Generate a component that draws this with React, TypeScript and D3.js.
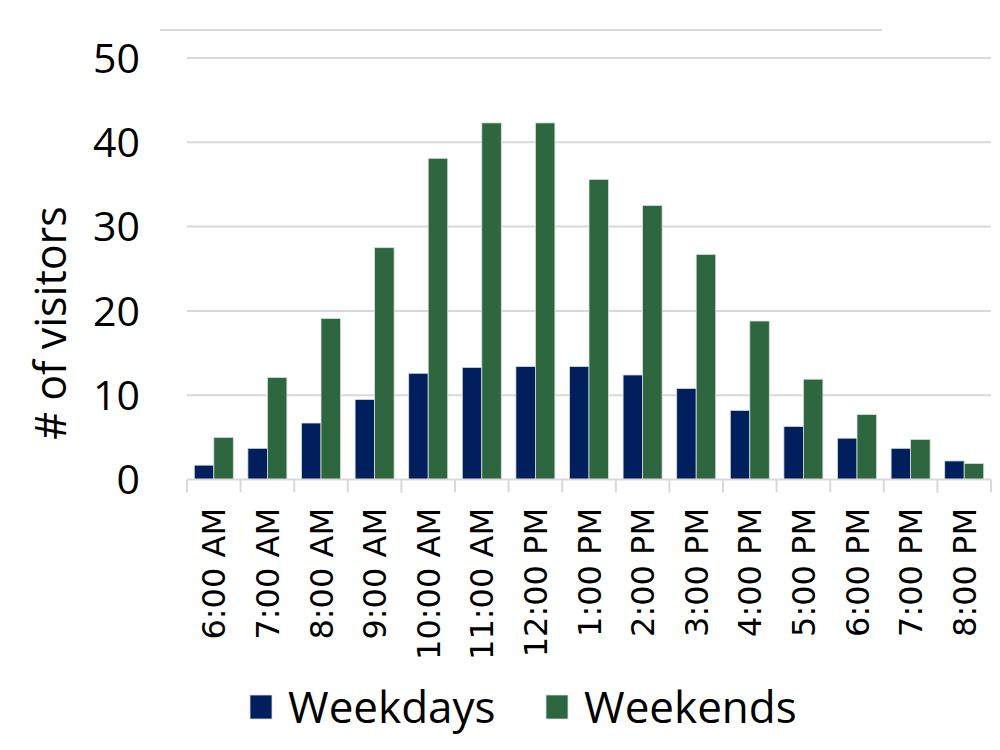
import React from "react";
import * as d3 from "d3";

const categories = [
  "6:00 AM", "7:00 AM", "8:00 AM", "9:00 AM", "10:00 AM", "11:00 AM", "12:00 PM",
  "1:00 PM", "2:00 PM", "3:00 PM", "4:00 PM", "5:00 PM", "6:00 PM", "7:00 PM", "8:00 PM",
];
const weekdays = [1.7, 3.7, 6.7, 9.5, 12.6, 13.3, 13.4, 13.4, 12.4, 10.8, 8.2, 6.3, 4.9, 3.7, 2.2];
const weekends = [5.0, 12.1, 19.1, 27.5, 38.1, 42.3, 42.3, 35.6, 32.5, 26.7, 18.8, 11.9, 7.7, 4.75, 1.9];
const seriesNames = ["Weekdays", "Weekends"];
const seriesColors = ["#001F5C", "#2E673F"];
const yTicks = [0, 10, 20, 30, 40, 50];
const yTitle = "# of visitors";

export default function App() {
  const W = 1000, H = 750;
  const x0 = 187, x1 = 991;
  const catScale = d3.scaleBand<string>().domain(categories).range([x0, x1]).padding(0);
  const step = catScale.step();
  const serScale = d3.scaleBand<string>().domain(seriesNames).range([0, step]).paddingInner(0).paddingOuter(0.374);
  const y = d3.scaleLinear().domain([0, 50]).range([479.5, 58]);
  const data = [weekdays, weekends];
  const boundaries = d3.range(categories.length + 1).map((i) => x0 + i * step);
  const tickFont = "'Open Sans', sans-serif";
  const legendX = [250, 546];

  return (
    <svg width={W} height={H} style={{ position: "absolute", left: 0, top: 0, background: "#fff" }}>
      {/* decorative top line */}
      <line x1={160} x2={882} y1={30} y2={30} stroke="#D9D9D9" strokeWidth={2} />
      {/* gridlines */}
      {yTicks.filter((t) => t > 0).map((t) => (
        <line key={t} x1={x0} x2={x1} y1={y(t)} y2={y(t)} stroke="#D9D9D9" strokeWidth={2} />
      ))}
      {/* y tick labels */}
      {yTicks.map((t) => (
        <text key={t} x={140} y={y(t)} dy="0.36em" textAnchor="end" fontFamily={tickFont} fontSize={41} fill="#000">
          {t}
        </text>
      ))}
      {/* y title */}
      <text
        transform={`translate(66, 323) rotate(-90)`}
        textAnchor="middle"
        fontFamily={tickFont}
        fontSize={43}
        fill="#000"
      >
        {yTitle}
      </text>
      {/* bars */}
      {categories.map((c, i) => (
        <g key={c} transform={`translate(${catScale(c)},0)`}>
          {seriesNames.map((s, k) => (
            <rect
              key={s}
              x={serScale(s)}
              y={y(data[k][i])}
              width={serScale.bandwidth()}
              height={y(0) - y(data[k][i])}
              fill={seriesColors[k]}
              stroke="#d8e0dc"
              strokeWidth={0.8}
            />
          ))}
        </g>
      ))}
      {/* x axis */}
      <line x1={x0} x2={x1} y1={y(0)} y2={y(0)} stroke="#D9D9D9" strokeWidth={2} />
      {boundaries.map((bx, i) => (
        <line key={i} x1={bx} x2={bx} y1={y(0)} y2={y(0) + 13} stroke="#D9D9D9" strokeWidth={2} />
      ))}
      {categories.map((c) => (
        <text
          key={c}
          transform={`translate(${(catScale(c) as number) + step / 2}, 508) rotate(-90)`}
          textAnchor="end"
          dy="0.36em"
          fontFamily="'DejaVu Sans', sans-serif"
          fontSize={32}
          fill="#000"
        >
          {c}
        </text>
      ))}
      {/* legend */}
      {seriesNames.map((s, k) => {
        const lx = legendX[k];
        return (
          <g key={s}>
            <rect x={lx} y={695} width={22} height={24} fill={seriesColors[k]} stroke="#d8e0dc" strokeWidth={0.8} />
            <text x={lx + 38} y={707} dy="0.36em" fontFamily={tickFont} fontSize={44} fill="#000">
              {s}
            </text>
          </g>
        );
      })}
    </svg>
  );
}
